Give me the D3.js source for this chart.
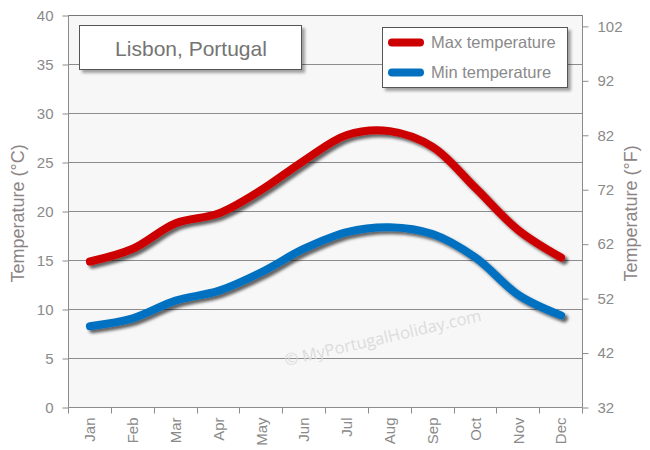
<!DOCTYPE html>
<html>
<head>
<meta charset="utf-8">
<script src="https://cdn.jsdelivr.net/npm/d3@7"></script>
<style>
  html, body { margin: 0; padding: 0; background: #fff; }
  svg { display: block; font-family: "Liberation Sans", Arial, sans-serif; }
</style>
</head>
<body>
<svg id="chart" width="650" height="450"></svg>
<script>
const months = ["Jan","Feb","Mar","Apr","May","Jun","Jul","Aug","Sep","Oct","Nov","Dec"];
const maxTemp = [14.9, 16.2, 18.8, 19.8, 22.2, 25.2, 27.8, 28.2, 26.6, 22.4, 18.1, 15.3];
const minTemp = [8.3, 9.1, 10.9, 11.9, 13.8, 16.2, 17.9, 18.4, 17.7, 15.3, 11.5, 9.4];
const celsiusTicks = [0, 5, 10, 15, 20, 25, 30, 35, 40];
const fahrenheitTicks = [32, 42, 52, 62, 72, 82, 92, 102];
const seriesNames = ["Max temperature", "Min temperature"];
const seriesColors = ["#cc0000", "#0070c0"];
const titleText = "Lisbon, Portugal";
const yTitleLeft = "Temperature (°C)";
const yTitleRight = "Temperature (°F)";
const watermark = "© MyPortugalHoliday.com";

const svg = d3.select("#chart");
const L = 68.5, R = 582.5, T = 15.5, B = 407.5;
const textColor = "#8a8a8a";
const gridColor = "#8c8c8c";

const defs = svg.append("defs");
const f1 = defs.append("filter").attr("id", "lineShadow").attr("x", "-10%").attr("y", "-20%").attr("width", "130%").attr("height", "150%");
f1.append("feDropShadow").attr("dx", 3).attr("dy", 3).attr("stdDeviation", 1.6).attr("flood-color", "#000").attr("flood-opacity", 0.6);
const f2 = defs.append("filter").attr("id", "boxShadow").attr("x", "-10%").attr("y", "-20%").attr("width", "130%").attr("height", "150%");
f2.append("feDropShadow").attr("dx", 3).attr("dy", 3).attr("stdDeviation", 1.5).attr("flood-color", "#000").attr("flood-opacity", 0.35);

const x = d3.scaleBand().domain(months).range([L, R]).padding(0);
const y = d3.scaleLinear().domain([0, 40]).range([B, T]);
const yF = d3.scaleLinear().domain([32, 32 + 40 * 9 / 5]).range([B, T]);

// plot background
svg.append("rect").attr("x", L).attr("y", T).attr("width", R - L).attr("height", B - T).attr("fill", "#f7f7f7");

// gridlines
svg.append("g").selectAll("line").data(celsiusTicks.filter(d => d > 0)).join("line")
  .attr("x1", L).attr("x2", R).attr("y1", d => y(d)).attr("y2", d => y(d))
  .attr("stroke", gridColor).attr("stroke-width", 1);

// watermark
svg.append("text").attr("transform", "translate(286,366) rotate(-13)")
  .attr("font-family", "'Open Sans', 'DejaVu Sans', sans-serif").attr("font-size", 16.5)
  .attr("fill", "#dcdcdc").text(watermark);

// left axis
const leftAxis = svg.append("g").attr("transform", `translate(${L},0)`)
  .call(d3.axisLeft(y).tickValues(celsiusTicks).tickSize(6).tickPadding(9).tickFormat(d3.format("d")));
// right axis
const rightAxis = svg.append("g").attr("transform", `translate(${R},0)`)
  .call(d3.axisRight(yF).tickValues(fahrenheitTicks).tickSize(6).tickPadding(9).tickFormat(d3.format("d")));
// bottom axis (labels at band centers)
const bottomAxis = svg.append("g").attr("transform", `translate(0,${B})`)
  .call(d3.axisBottom(x).tickSize(0).tickPadding(0));
bottomAxis.selectAll(".tick text")
  .attr("transform", "rotate(-90)").attr("text-anchor", "end")
  .attr("x", -10).attr("y", 0).attr("dy", "0.35em");
// bottom tick marks at band edges
const edges = months.map(m => x(m)).concat([R]);
svg.append("g").selectAll("line").data(edges).join("line")
  .attr("x1", d => Math.round(d - 0.5) + 0.5).attr("x2", d => Math.round(d - 0.5) + 0.5)
  .attr("y1", B).attr("y2", B + 6).attr("stroke", gridColor);

[leftAxis, rightAxis, bottomAxis].forEach(g => {
  g.select(".domain").attr("stroke", gridColor);
  g.selectAll(".tick line").attr("stroke", gridColor);
  g.selectAll(".tick text").attr("fill", textColor).attr("font-size", 15)
    .attr("font-family", "'Liberation Sans', Arial, sans-serif");
});
bottomAxis.select(".domain").attr("d", `M${L},0H${R}`);
leftAxis.select(".domain").attr("d", `M0,${T}V${B}`);
rightAxis.select(".domain").attr("d", `M0,${T}V${B}`);
// top border
svg.append("line").attr("x1", L).attr("x2", R).attr("y1", T).attr("y2", T).attr("stroke", "#777");

// axis titles
svg.append("text").attr("transform", `translate(24,${(T + B) / 2 + 2}) rotate(-90)`)
  .attr("text-anchor", "middle").attr("font-size", 18).attr("fill", "#8c8484").text(yTitleLeft);
svg.append("text").attr("transform", `translate(637,${(T + B) / 2 + 2}) rotate(-90)`)
  .attr("text-anchor", "middle").attr("font-size", 18).attr("fill", "#8c8484").text(yTitleRight);

// lines
const line = d3.line().x((d, i) => x(months[i]) + x.bandwidth() / 2).y(d => y(d)).curve(d3.curveCatmullRom.alpha(0.5));
[maxTemp, minTemp].forEach((s, i) => {
  svg.append("path").datum(s).attr("d", line)
    .attr("fill", "none").attr("stroke", seriesColors[i]).attr("stroke-width", 8)
    .attr("stroke-linecap", "round").attr("stroke-linejoin", "round")
    .attr("filter", "url(#lineShadow)");
});

// title box
svg.append("rect").attr("x", 79.5).attr("y", 25.5).attr("width", 222).attr("height", 44)
  .attr("fill", "#fff").attr("stroke", "#555").attr("stroke-width", 1).attr("filter", "url(#boxShadow)");
svg.append("text").attr("x", 191).attr("y", 56).attr("text-anchor", "middle")
  .attr("font-size", 21).attr("fill", "#747474").text(titleText);

// legend
svg.append("rect").attr("x", 382.5).attr("y", 27.5).attr("width", 185).attr("height", 60)
  .attr("fill", "#fff").attr("stroke", "#555").attr("stroke-width", 1).attr("filter", "url(#boxShadow)");
const lg = svg.append("g").selectAll("g").data(seriesNames).join("g")
  .attr("transform", (d, i) => `translate(0,${42.5 + i * 30})`);
lg.append("line").attr("x1", 392).attr("x2", 420).attr("y1", 0).attr("y2", 0)
  .attr("stroke", (d, i) => seriesColors[i]).attr("stroke-width", 8).attr("stroke-linecap", "round");
lg.append("text").attr("x", 431).attr("y", 0).attr("dy", "0.35em")
  .attr("font-size", 16.5).attr("fill", textColor).text(d => d);
</script>
</body>
</html>
